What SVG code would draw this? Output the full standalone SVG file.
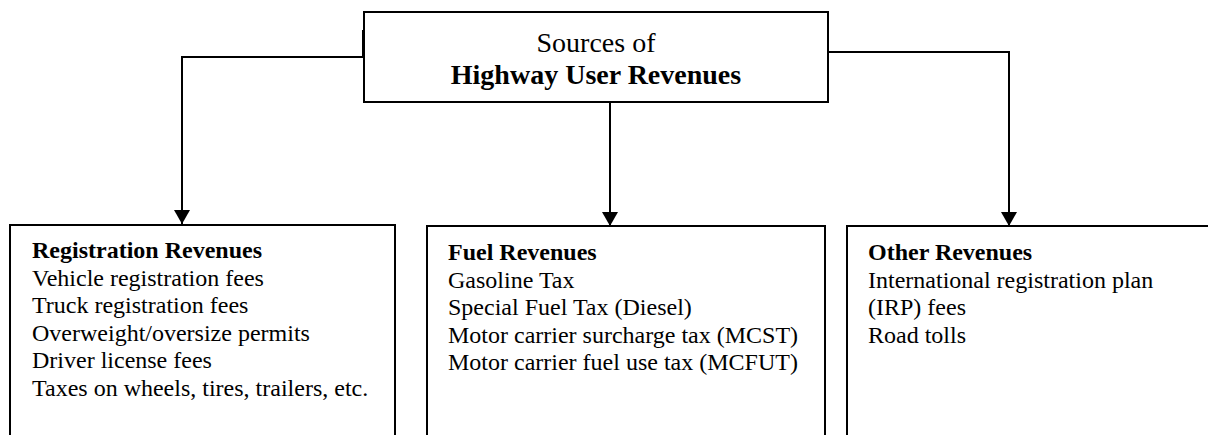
<svg xmlns="http://www.w3.org/2000/svg" width="1208" height="435" viewBox="0 0 1208 435">
  <style>
    .box { fill: #fff; stroke: #000; stroke-width: 2; }
    .wire { fill: none; stroke: #000; stroke-width: 2; }
    text { font-family: "Liberation Serif", "Times New Roman", serif; fill: #000; }
    .title { font-size: 28px; }
    .head { font-size: 24px; font-weight: bold; }
    .item { font-size: 24px; }
  </style>
  <defs>
    <!-- filled triangular arrowhead, 14 long and 16 wide -->
    <marker id="arrow" viewBox="0 0 14 16" refX="14" refY="8" markerWidth="14" markerHeight="16" markerUnits="userSpaceOnUse" orient="auto">
      <path d="M0,0 L14,8 L0,16 Z" fill="#000"/>
    </marker>
  </defs>
  <rect width="1208" height="435" fill="#fff"/>

  <g id="connectors">
    <path class="wire" d="M364,57 H182 V224" marker-end="url(#arrow)"/>
    <path class="wire" d="M363,30 V57"/>
    <path class="wire" d="M610,102 V226" marker-end="url(#arrow)"/>
    <path class="wire" d="M828,52 H1009 V226" marker-end="url(#arrow)"/>
  </g>

  <g id="sources">
    <rect class="box" x="364" y="12" width="464" height="90"/>
    <text class="title" x="596" y="52" text-anchor="middle">Sources of</text>
    <text class="title" x="596" y="84" text-anchor="middle" font-weight="bold">Highway User Revenues</text>
  </g>

  <g id="registration">
    <rect class="box" x="10" y="225" width="385" height="220"/>
    <text class="head" x="32" y="258">Registration Revenues</text>
    <text class="item" x="32" y="286">Vehicle registration fees</text>
    <text class="item" x="32" y="313">Truck registration fees</text>
    <text class="item" x="32" y="341">Overweight/oversize permits</text>
    <text class="item" x="32" y="368">Driver license fees</text>
    <text class="item" x="32" y="396">Taxes on wheels, tires, trailers, etc.</text>
  </g>

  <g id="fuel">
    <rect class="box" x="427" y="226" width="398" height="220"/>
    <text class="head" x="448" y="260">Fuel Revenues</text>
    <text class="item" x="448" y="288">Gasoline Tax</text>
    <text class="item" x="448" y="315">Special Fuel Tax (Diesel)</text>
    <text class="item" x="448" y="343">Motor carrier surcharge tax (MCST)</text>
    <text class="item" x="448" y="370">Motor carrier fuel use tax (MCFUT)</text>
  </g>

  <g id="other">
    <rect class="box" x="847" y="226" width="380" height="220"/>
    <text class="head" x="868" y="260">Other Revenues</text>
    <text class="item" x="868" y="288">International registration plan</text>
    <text class="item" x="868" y="315">(IRP) fees</text>
    <text class="item" x="868" y="343">Road tolls</text>
  </g>
</svg>
